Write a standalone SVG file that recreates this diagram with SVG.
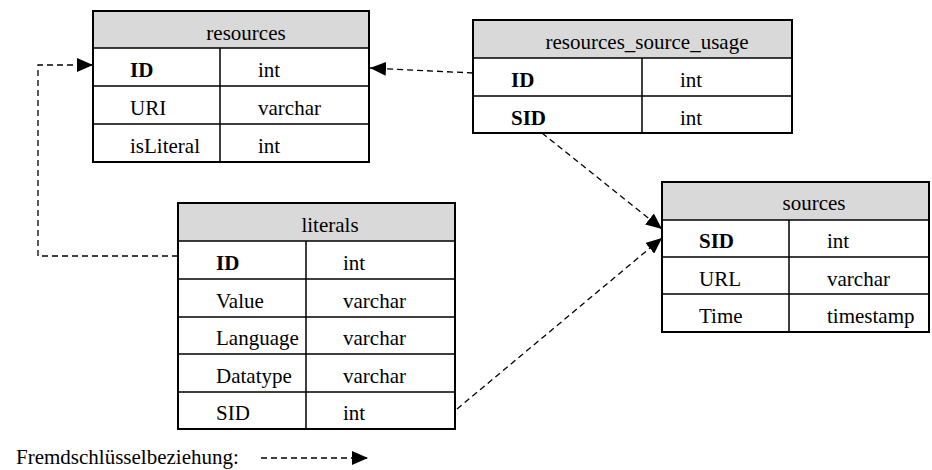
<svg xmlns="http://www.w3.org/2000/svg" width="932" height="470" viewBox="0 0 932 470">
<style>
text{font-family:"Liberation Serif","Times New Roman",serif;font-size:21px;fill:#000}
.b{font-weight:bold}
.h{text-anchor:middle}
.hd{fill:#d9d9d9;stroke:none}
.box{fill:none;stroke:#000;stroke-width:2}
.ln{stroke:#000;stroke-width:1.5;fill:none}
.fk{stroke:#000;stroke-width:1.3;stroke-dasharray:6,4;fill:none}
</style>
<defs>
<marker id="ah" markerUnits="userSpaceOnUse" markerWidth="16" markerHeight="14" refX="16" refY="7" orient="auto">
<path d="M0,0 L16,7 L0,14 z" fill="#000"/>
</marker>
</defs>
<rect width="932" height="470" fill="#fff"/>
<g id="resources">
<rect class="hd" x="93" y="11" width="276" height="37"/>
<rect class="box" x="93" y="11" width="276" height="151"/>
<path class="ln" d="M93,48H369M93,86H369M93,124H369M220,48V162"/>
<text class="h" x="246" y="40">resources</text>
<text class="b" x="130" y="77">ID</text><text x="258" y="77">int</text>
<text x="130" y="115">URI</text><text x="258" y="115">varchar</text>
<text x="130" y="153">isLiteral</text><text x="258" y="153">int</text>
</g>
<g id="resources_source_usage">
<rect class="hd" x="473" y="20" width="319" height="38"/>
<rect class="box" x="473" y="20" width="319" height="113"/>
<path class="ln" d="M473,58H792M473,96H792M642,58V133"/>
<text class="h" x="647" y="49">resources_source_usage</text>
<text class="b" x="511" y="87">ID</text><text x="680" y="87">int</text>
<text class="b" x="511" y="125">SID</text><text x="680" y="125">int</text>
</g>
<g id="sources">
<rect class="hd" x="662" y="182" width="267" height="38"/>
<rect class="box" x="662" y="182" width="267" height="150"/>
<path class="ln" d="M662,220H929M662,257H929M662,294H929M789,220V332"/>
<text class="h" x="814" y="210">sources</text>
<text class="b" x="699" y="248">SID</text><text x="827" y="248">int</text>
<text x="699" y="286">URL</text><text x="827" y="286">varchar</text>
<text x="699" y="323">Time</text><text x="827" y="323">timestamp</text>
</g>
<g id="literals">
<rect class="hd" x="178" y="203" width="277" height="38"/>
<rect class="box" x="178" y="203" width="277" height="226"/>
<path class="ln" d="M178,241H455M178,279H455M178,317H455M178,354H455M178,392H455M306,241V429"/>
<text class="h" x="330" y="232">literals</text>
<text class="b" x="216" y="270">ID</text><text x="343" y="270">int</text>
<text x="216" y="308">Value</text><text x="343" y="308">varchar</text>
<text x="216" y="345">Language</text><text x="343" y="345">varchar</text>
<text x="216" y="383">Datatype</text><text x="343" y="383">varchar</text>
<text x="216" y="420">SID</text><text x="343" y="420">int</text>
</g>
<g id="connectors">
<path class="fk" d="M178,256H38V65H93" marker-end="url(#ah)"/>
<path class="fk" d="M473,73L370,68" marker-end="url(#ah)"/>
<path class="fk" d="M542,133L662,229" marker-end="url(#ah)"/>
<path class="fk" d="M457,409L662,238" marker-end="url(#ah)"/>
</g>
<g id="legend">
<text x="16" y="464">Fremdschlüsselbeziehung:</text>
<path class="fk" d="M261,458H368" marker-end="url(#ah)"/>
</g>
</svg>
